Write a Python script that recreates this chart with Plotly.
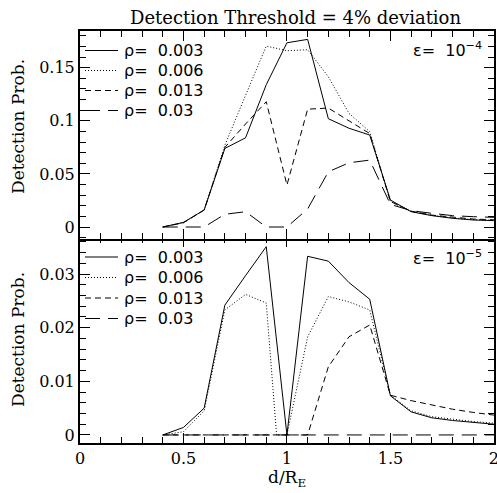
import plotly.graph_objects as go

# ---------------- data ----------------
x = [0.4, 0.5, 0.6, 0.7, 0.8, 0.9, 1.0, 1.1, 1.2, 1.3, 1.4, 1.5, 1.6, 1.7, 1.8, 1.9, 2.0]
x_dot_low = [0.4, 0.5, 0.6, 0.7, 0.8, 0.9, 0.95, 1.0, 1.1, 1.2, 1.3, 1.4, 1.5, 1.6, 1.7, 1.8, 1.9, 2.0]

labels = ["ρ=\u00a0 0.003", "ρ=\u00a0 0.006", "ρ=\u00a0 0.013", "ρ=\u00a0 0.03"]

x_ticks = [0, 0.5, 1, 1.5, 2]
x_tick_text = ["0", "0.5", "1", "1.5", "2"]
top_y_ticks = [0, 0.05, 0.1, 0.15]
top_y_text = ["0", "0.05", "0.1", "0.15"]
bot_y_ticks = [0, 0.01, 0.02, 0.03]
bot_y_text = ["0", "0.01", "0.02", "0.03"]

# epsilon = 1e-4 (top panel)
top_r003 = [0, 0.0044, 0.016, 0.074, 0.084, 0.134, 0.1735, 0.1767, 0.102, 0.093, 0.0866, 0.0254, 0.0144, 0.0107, 0.0082, 0.0066, 0.006]
top_r006 = [0, 0.004, 0.016, 0.077, 0.124, 0.1704, 0.166, 0.167, 0.1415, 0.107, 0.0898, 0.024, 0.0147, 0.011, 0.0086, 0.0069, 0.0062]
top_r013 = [0, 0.004, 0.016, 0.075, 0.097, 0.118, 0.0395, 0.111, 0.112, 0.1, 0.088, 0.024, 0.015, 0.0112, 0.009, 0.0075, 0.0068]
top_r03 = [0, 0, 0, 0.012, 0.0144, 0, 0, 0.017, 0.052, 0.0605, 0.063, 0.0213, 0.0154, 0.0129, 0.0107, 0.0097, 0.0091]

# epsilon = 1e-5 (bottom panel)
bot_r003 = [0, 0.0014, 0.005, 0.0242, 0.0297, 0.0351, 0, 0.0333, 0.0324, 0.0284, 0.0253, 0.0073, 0.0043, 0.0032, 0.0027, 0.0023, 0.002]
bot_r006 = [0, 0.0006, 0.0045, 0.0233, 0.0262, 0.0246, 0, 0, 0.0183, 0.0258, 0.0248, 0.0233, 0.0074, 0.0045, 0.0034, 0.0029, 0.0025, 0.0022]
bot_r013 = [0, 0, 0, 0, 0, 0, 0, 0, 0.0127, 0.0183, 0.0205, 0.0074, 0.0064, 0.0056, 0.0048, 0.0042, 0.0037]
bot_r03 = [0, 0, 0, 0, 0, 0, 0, 0, 0, 0, 0, 0, 0, 0, 0, 0, 0]

dashes = ["solid", "1px,2px", "6px,4px", "15px,8px"]

SERIF = "DejaVu Serif"
SANS = "DejaVu Sans"

W, H = 497, 493
ML, MR, MT, MB = 80, 3, 31, 50
PW = W - ML - MR
PH = H - MT - MB


def px_x(p):
    return (p - ML) / PW


def px_y(p):
    return (H - MB - p) / PH


fig = go.Figure()

top_sets = [(x, top_r003), (x, top_r006), (x, top_r013), (x, top_r03)]
bot_sets = [(x, bot_r003), (x_dot_low, bot_r006), (x, bot_r013), (x, bot_r03)]

for (xs, ys), lab, d in zip(top_sets, labels, dashes):
    fig.add_trace(go.Scatter(x=xs, y=ys, mode="lines", name=lab, showlegend=False,
                             line=dict(color="black", width=1, dash=d),
                             xaxis="x2", yaxis="y2"))
for (xs, ys), lab, d in zip(bot_sets, labels, dashes):
    fig.add_trace(go.Scatter(x=xs, y=ys, mode="lines", name=lab, showlegend=False,
                             line=dict(color="black", width=1, dash=d),
                             xaxis="x", yaxis="y"))

LW = 2
axis_common = dict(showline=True, linecolor="black", linewidth=LW, mirror="allticks",
                   ticks="inside", ticklen=10, tickwidth=1, tickcolor="black",
                   showgrid=False, zeroline=False, automargin=False,
                   ticklabeloverflow="allow",
                   tickfont=dict(family=SERIF, size=16, color="black"))

mid = px_y(237)
overlap = LW / PH

fig.update_layout(
    width=W, height=H,
    margin=dict(l=ML, r=MR, t=MT, b=MB, autoexpand=False),
    paper_bgcolor="white", plot_bgcolor="white",
    showlegend=False,
    xaxis=dict(domain=[0, 1], anchor="y", range=[0, 2.0005], tickvals=x_ticks, ticktext=x_tick_text,
               minor=dict(dtick=0.1, tick0=0, ticks="inside", ticklen=6, tickcolor="black", tickwidth=1),
               **axis_common),
    xaxis2=dict(domain=[0, 1], anchor="y2", range=[0, 2.0005], tickvals=x_ticks, showticklabels=False,
                minor=dict(dtick=0.1, tick0=0, ticks="inside", ticklen=6, tickcolor="black", tickwidth=1),
                **axis_common),
    yaxis=dict(domain=[0, mid], anchor="x", range=[-0.0015, 0.0369],
               tickvals=bot_y_ticks, ticktext=bot_y_text,
               minor=dict(dtick=0.002, tick0=0, ticks="inside", ticklen=6, tickcolor="black", tickwidth=1),
               **axis_common),
    yaxis2=dict(domain=[mid - overlap, 1], anchor="x2", range=[-0.0094 - 0.0019, 0.1846],
                tickvals=top_y_ticks, ticktext=top_y_text,
                minor=dict(dtick=0.01, tick0=0, ticks="inside", ticklen=6, tickcolor="black", tickwidth=1),
                **axis_common),
)

shapes = []
annots = []

# manual legends (one per panel)
top_rows = [50.5, 70.5, 90.5, 110.5]
bot_rows = [257, 277.5, 298, 318.5]
for rows in (top_rows, bot_rows):
    for r, lab, d in zip(rows, labels, dashes):
        shapes.append(dict(type="line", xref="paper", yref="paper",
                           x0=px_x(85), x1=px_x(118), y0=px_y(r), y1=px_y(r),
                           line=dict(color="black", width=1, dash=d)))
        annots.append(dict(text=lab, x=px_x(122), y=px_y(r), xref="paper", yref="paper",
                           xanchor="left", yanchor="middle", showarrow=False,
                           font=dict(family=SANS, size=16, color="black")))

annots += [
    dict(text="Detection Threshold = 4% deviation", x=px_x(295), y=px_y(17), xref="paper", yref="paper",
         xanchor="center", yanchor="middle", showarrow=False,
         font=dict(family=SERIF, size=18, color="black")),
    dict(text="ε=\u00a0 10<sup>−4</sup>", x=px_x(484), y=px_y(50), xref="paper", yref="paper",
         xanchor="right", yanchor="middle", showarrow=False,
         font=dict(family=SANS, size=16, color="black")),
    dict(text="ε=\u00a0 10<sup>−5</sup>", x=px_x(484), y=px_y(257), xref="paper", yref="paper",
         xanchor="right", yanchor="middle", showarrow=False,
         font=dict(family=SANS, size=16, color="black")),
    dict(text="Detection Prob.", x=px_x(18), y=px_y(127), xref="paper", yref="paper",
         xanchor="center", yanchor="middle", textangle=-90, showarrow=False,
         font=dict(family=SERIF, size=17, color="black")),
    dict(text="Detection Prob.", x=px_x(18), y=px_y(340), xref="paper", yref="paper",
         xanchor="center", yanchor="middle", textangle=-90, showarrow=False,
         font=dict(family=SERIF, size=17, color="black")),
    dict(text="d/R<sub>E</sub>", x=px_x(287), y=px_y(478), xref="paper", yref="paper",
         xanchor="center", yanchor="middle", showarrow=False,
         font=dict(family=SERIF, size=17, color="black")),
]
fig.update_layout(annotations=annots, shapes=shapes)

fig.write_html("out.html")
